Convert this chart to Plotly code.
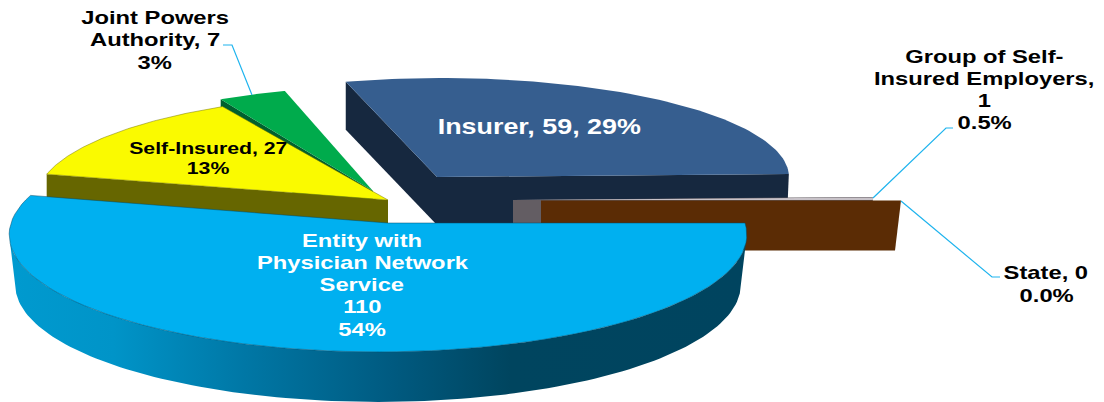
import math
import plotly.graph_objects as go

# ---- data ----
categories = ["Entity with Physician Network Service", "Self-Insured", "Joint Powers Authority",
              "Insurer", "Group of Self-Insured Employers", "State"]
values = [110, 27, 7, 59, 1, 0]
label_lines = [
    ["Entity with", "Physician Network", "Service", "110", "54%"],
    ["Self-Insured, 27", "13%"],
    ["Joint Powers", "Authority, 7", "3%"],
    ["Insurer, 59, 29%"],
    ["Group of Self-", "Insured Employers,", "1", "0.5%"],
    ["State, 0", "0.0%"],
]

# ---- geometry of the exploded tilted pie, on a pixel-sized plot area ----
W, H = 1104, 402
FONT = "Liberation Sans"
# per slice: apex x, y, arc centre x, rx, ry, depth, perspective
geom = {
    0: (388, 223, 378, 367, 116, 50, 0.1),
    1: (388, 200, 390, 354, 106, 50, 0),
    2: (373, 191, 373, 322, 104, 50, 0),
    3: (437, 177, 441, 348, 99, 48, 0),
    4: (513, 200, 513, 360, 100, 50, 0),
    5: (541, 200.5, 541, 360, 100, 50, 0),
}
total = sum(values)
angles = [0.0]
for v in values:
    angles.append(angles[-1] + v / total * 360)


def rim(i, a, b, n=80, dy=0, shrink=0.0):
    ax, ay, cx, rx, ry, _, k = geom[i]
    xs, ys = [], []
    for c in range(n + 1):
        t = math.radians(a + (b - a) * c / n)
        d = 1 - k * math.sin(t)
        xs.append(cx + (rx - shrink) * math.cos(t) / d)
        ys.append(ay + dy + ry * math.sin(t) / d)
    return xs, ys


fig = go.Figure()


def poly(xs, ys, color, line=None, lw=0.0, gradient=None):
    kw = dict(fillgradient=gradient) if gradient else dict(fillcolor=color)
    fig.add_trace(go.Scatter(x=xs + xs[:1], y=ys + ys[:1], mode="lines", fill="toself",
                             line=dict(color=line or color, width=lw), hoverinfo="skip",
                             showlegend=False, **kw))


def top(i, color, line=None, lw=0.0):
    ax, ay = geom[i][:2]
    xs, ys = rim(i, angles[i], angles[i + 1])
    poly([ax] + xs, [ay] + ys, color, line, lw)


def wall(i, theta, color, shrink=0.0):
    ax, ay, _, _, _, depth, _ = geom[i]
    xs, ys = rim(i, theta, theta, n=1)
    x, y = xs[0], ys[0]
    poly([ax, x, x - shrink, ax], [ay, y, y + depth, ay + depth], color)


# Insurer (back)
wall(3, angles[3], "#16283F")
wall(3, angles[4], "#16283F", shrink=2)
top(3, "#365E8F")
# Group of self-insured employers + State (zero angle: only the wall shows)
wall(4, angles[4], "#635D63")
top(4, "#C8C2C8")
wall(5, angles[6], "#5B2C05", shrink=6)
# Joint Powers Authority
wall(2, angles[2], "#00602E")
top(2, "#00AB4C")
# Self-Insured
wall(1, angles[1], "#666600")
top(1, "#FAFA00", "#777700", 0.5)
# Entity: side wall between the rim's outermost points, then top
xs_t, ys_t = rim(0, 10, 170, n=120)
xs_b, ys_b = rim(0, 10, 170, n=120, dy=50, shrink=6)
poly(xs_t + xs_b[::-1], ys_t + ys_b[::-1], "#00445F", gradient=dict(
    type="horizontal", start=11, stop=745,
    colorscale=[[0, "#009ACF"], [0.14, "#0094C8"], [0.32, "#0077A5"],
                [0.52, "#005A80"], [0.68, "#00455F"], [1, "#00445F"]]))
top(0, "#00B0F0", "#004A68", 0.5)

# ---- leader lines ----
leaders = [
    ([223, 232, 252], [45, 45, 95]),
    ([873, 946, 953], [198, 128, 128]),
    ([901, 992, 1000], [201, 277, 277]),
]
for lx, ly in leaders:
    fig.add_trace(go.Scatter(x=lx, y=ly, mode="lines", line=dict(color="#1FB4EE", width=1.2),
                             hoverinfo="skip", showlegend=False))

# ---- labels: index, centre x, y of each line, colour, size ----
placements = [
    (0, 362, [240, 262, 284, 306, 329], "white", 19),
    (1, 208, [148, 168], "black", 17),
    (2, 155, [17, 39, 62], "black", 19),
    (3, 539, [127], "white", 21.5),
    (4, 984, [56, 78, 100, 122], "black", 19),
    (5, 1046, [272, 295], "black", 19),
]
for i, x, ys, col, size in placements:
    for line, y in zip(label_lines[i], ys):
        fig.add_annotation(x=x, y=y, text=f"<b>{line}</b>", showarrow=False, xanchor="center",
                           yanchor="middle", font=dict(family=FONT, size=size, color=col))

fig.update_layout(
    width=W, height=H, margin=dict(l=0, r=0, t=0, b=0), showlegend=False,
    paper_bgcolor="white", plot_bgcolor="white",
    xaxis=dict(range=[0, W], visible=False, fixedrange=True),
    yaxis=dict(range=[H, 0], visible=False, fixedrange=True),
)
# the reference lettering is stretched sideways: widen each annotation's glyphs by the same factor
stretch_js = """
document.body.style.margin='0';document.body.style.overflow='hidden';
document.querySelectorAll('.annotation-text').forEach(function(t){
  t.setAttribute('lengthAdjust','spacingAndGlyphs');
  t.setAttribute('textLength', t.getComputedTextLength()*1.25);
});
"""
fig.write_html("out.html", config=dict(displayModeBar=False), post_script=stretch_js)
